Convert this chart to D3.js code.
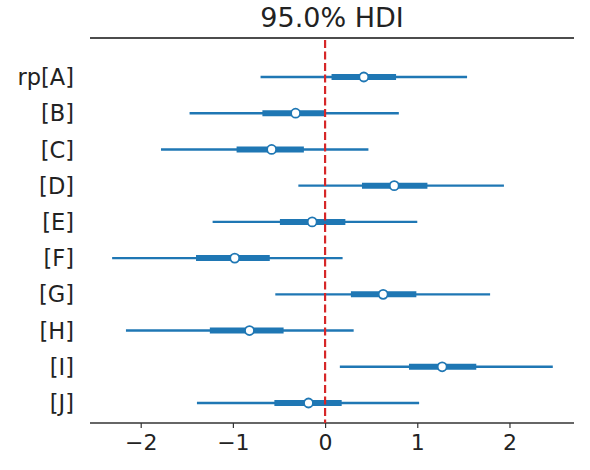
<!DOCTYPE html>
<html><head><meta charset="utf-8">
<script src="https://cdn.jsdelivr.net/npm/d3@7"></script>
<style>body{margin:0;background:#fff}</style>
</head><body>
<svg id="chart" width="590" height="470"></svg>
<script>
const labels = ["rp[A]","[B]","[C]","[D]","[E]","[F]","[G]","[H]","[I]","[J]"];
const hdiLow  = [-0.70,-1.47,-1.78,-0.29,-1.22,-2.31,-0.54,-2.16, 0.16,-1.39];
const hdiHigh = [ 1.54, 0.80, 0.47, 1.94, 1.00, 0.19, 1.79, 0.31, 2.47, 1.02];
const iqrLow  = [ 0.07,-0.68,-0.96, 0.40,-0.49,-1.40, 0.28,-1.25, 0.91,-0.55];
const iqrHigh = [ 0.77, 0.00,-0.23, 1.11, 0.22,-0.60, 0.99,-0.45, 1.64, 0.18];
const medians = [ 0.42,-0.32,-0.58, 0.75,-0.14,-0.98, 0.63,-0.82, 1.27,-0.18];
const xTicks = [-2,-1,0,1,2];
const title = "95.0% HDI";
const refValue = 0;

(function(){
const svg = d3.select("#chart");
const font = "DejaVu Sans, Verdana, sans-serif";
const blue = "#1f77b4";
const mLeft = 90, mRight = 574, mTop = 38, mBottom = 423;

const x = d3.scaleLinear().domain([-2.55, 2.7]).range([mLeft, mRight]);
const y = d3.scalePoint().domain(labels).range([77, 403]);

const rows = labels.map((l,i)=>({l, lo:hdiLow[i], hi:hdiHigh[i], qlo:iqrLow[i], qhi:iqrHigh[i], m:medians[i]}));

svg.append("text").attr("x",(mLeft+mRight)/2).attr("y",27)
  .attr("text-anchor","middle").attr("font-family",font).attr("font-size",27)
  .attr("fill","#222").text(title);

svg.append("line").attr("x1",mLeft).attr("x2",mRight).attr("y1",mTop).attr("y2",mTop)
  .attr("stroke","#111").attr("stroke-width",1.6);

const xAxis = svg.append("g").attr("transform",`translate(0,${mBottom})`)
  .call(d3.axisBottom(x).tickValues(xTicks).tickSize(5).tickPadding(6).tickFormat(d3.format("d")));
xAxis.select(".domain").attr("stroke","#333").attr("stroke-width",1.6).attr("d",`M${mLeft},0H${mRight}`);
xAxis.selectAll(".tick line").attr("stroke","#333").attr("stroke-width",1.2);
xAxis.selectAll(".tick text").attr("font-family",font).attr("font-size",22).attr("fill","#222");

svg.append("g").selectAll("text").data(rows).join("text")
  .attr("x",74).attr("y",d=>y(d.l)).attr("dy","0.36em")
  .attr("text-anchor","end").attr("font-family",font).attr("font-size",22.5)
  .attr("fill","#222").text(d=>d.l);

const g = svg.append("g");
g.selectAll("line.hdi").data(rows).join("line").attr("class","hdi")
  .attr("x1",d=>x(d.lo)).attr("x2",d=>x(d.hi)).attr("y1",d=>y(d.l)).attr("y2",d=>y(d.l))
  .attr("stroke",blue).attr("stroke-width",2.4);
g.selectAll("line.iqr").data(rows).join("line").attr("class","iqr")
  .attr("x1",d=>x(d.qlo)).attr("x2",d=>x(d.qhi)).attr("y1",d=>y(d.l)).attr("y2",d=>y(d.l))
  .attr("stroke",blue).attr("stroke-width",6);

svg.append("line").attr("x1",x(refValue)).attr("x2",x(refValue)).attr("y1",mTop+2).attr("y2",mBottom)
  .attr("stroke","#d62728").attr("stroke-width",2.2).attr("stroke-dasharray","8,3.5");

svg.append("g").selectAll("circle").data(rows).join("circle")
  .attr("cx",d=>x(d.m)).attr("cy",d=>y(d.l)).attr("r",4.5)
  .attr("fill","#fff").attr("stroke",blue).attr("stroke-width",1.8);
})();
</script>
</body></html>
